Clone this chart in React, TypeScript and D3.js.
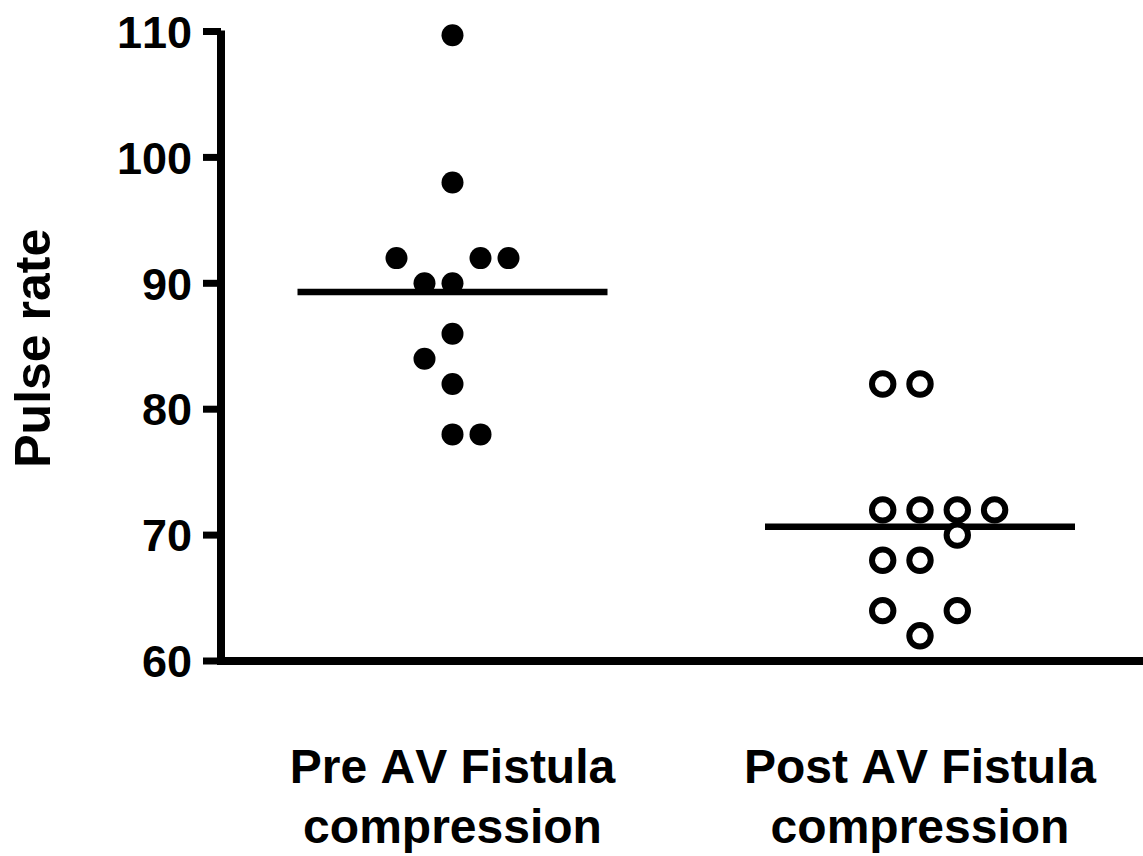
import React from "react";
import * as d3 from "d3";

const width = 1143;
const height = 856;
const margin = { top: 31.5, right: 0, bottom: 195, left: 221 };

// groups on the x axis
const categories = ["Pre", "Post"];
const categoryLabels = [
  ["Pre AV Fistula", "compression"],
  ["Post AV Fistula", "compression"],
];

// pulse rate of each patient, and the column it sits in within the scatter
const preValues = [109.7, 98, 92, 92, 92, 90, 90, 86, 84, 82, 78, 78];
const preSlots = [0, 0, -2, 1, 2, -1, 0, 0, -1, 0, 0, 1];
const postValues = [82, 82, 72, 72, 72, 72, 70, 68, 68, 64, 64, 62];
const postSlots = [-1, 0, -1, 0, 1, 2, 1, -1, 0, -1, 1, 0];

const yTicks = [60, 70, 80, 90, 100, 110];

const font = "'Liberation Sans', Arial, Helvetica, sans-serif";

const groups = [
  { key: "Pre", values: preValues, slots: preSlots, filled: true, slotWidth: 28 },
  { key: "Post", values: postValues, slots: postSlots, filled: false, slotWidth: 37.3 },
];

const App = () => {
  const yScale = d3
    .scaleLinear()
    .domain([60, 110])
    .range([height - margin.bottom, margin.top]);

  const xScale = d3.scalePoint().domain(categories).range([452.5, 920]);

  const axisY = yScale(60);
  const halfMean = 155;

  return (
    <svg
      width={width}
      height={height}
      style={{ position: "absolute", left: 0, top: 0, background: "#fff", fontKerning: "none" }}
      fontFamily={font}
      fontWeight="bold"
    >
      {/* y axis with ticks */}
      <line x1={margin.left} x2={margin.left} y1={yScale(110) - 1} y2={axisY + 4} stroke="#000" strokeWidth={8} />
      {yTicks.map((t) => (
        <g key={t}>
          <line x1={margin.left - 18} x2={margin.left} y1={yScale(t)} y2={yScale(t)} stroke="#000" strokeWidth={7} />
          <text x={192} y={yScale(t)} dy="0.36em" textAnchor="end" fontSize={45}>
            {t}
          </text>
        </g>
      ))}

      {/* x axis */}
      <line x1={margin.left - 4} x2={width} y1={axisY} y2={axisY} stroke="#000" strokeWidth={8} />

      {/* points and mean lines */}
      {groups.map((g) => {
        const cx = xScale(g.key) as number;
        const mean = d3.mean(g.values) as number;
        return (
          <g key={g.key}>
            <line
              x1={cx - halfMean}
              x2={cx + halfMean}
              y1={yScale(mean)}
              y2={yScale(mean)}
              stroke="#000"
              strokeWidth={6.5}
            />
            {g.values.map((v, i) => (
              <circle
                key={i}
                cx={cx + g.slots[i] * g.slotWidth}
                cy={yScale(v)}
                r={g.filled ? 11 : 10.7}
                fill={g.filled ? "#000" : "#fff"}
                stroke="#000"
                strokeWidth={g.filled ? 0 : 6}
              />
            ))}
          </g>
        );
      })}

      {/* category labels */}
      {categories.map((c, i) => (
        <text key={c} x={xScale(c) as number} y={783} textAnchor="middle" fontSize={48}>
          {categoryLabels[i].map((line, j) => (
            <tspan key={j} x={xScale(c) as number} dy={j === 0 ? 0 : 60}>
              {line}
            </tspan>
          ))}
        </text>
      ))}

      {/* y axis title */}
      <text
        transform={`translate(50, ${(yScale(60) + yScale(110)) / 2 + 2}) rotate(-90)`}
        textAnchor="middle"
        fontSize={50}
      >
        Pulse rate
      </text>
    </svg>
  );
};

export default App;
